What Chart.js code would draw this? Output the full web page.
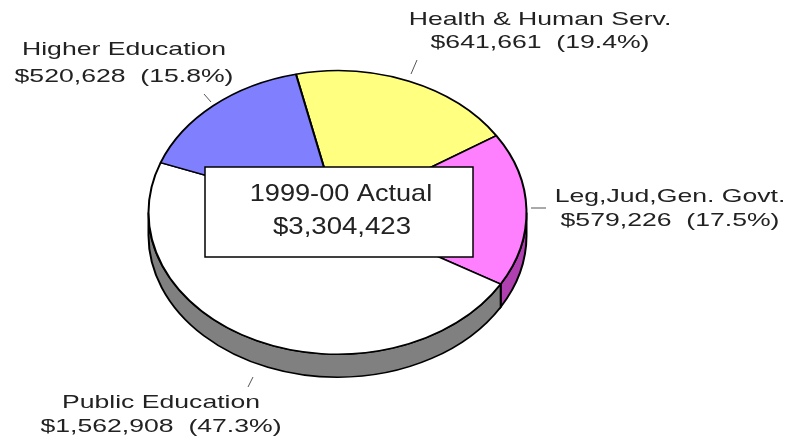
<!DOCTYPE html>
<html>
<head>
<meta charset="utf-8">
<script src="https://cdn.jsdelivr.net/npm/chart.js@4/dist/chart.umd.min.js"></script>
<style>
  html, body { margin: 0; padding: 0; background: #fff; }
  #chart { display: block; }
</style>
</head>
<body>
<canvas id="chart" width="797" height="446"></canvas>
<script>
// data (thousands of dollars)
const categories = ['Health & Human Serv.', 'Leg,Jud,Gen. Govt.', 'Public Education', 'Higher Education'];
const amounts = [641661, 579226, 1562908, 520628];
const centerTitle = '1999-00 Actual';

const topColors = ['#FFFF80', '#FF80FF', '#FFFFFF', '#8080FF'];
const sideColors = ['#B0B040', '#B040B0', '#808080', '#4040B0'];

// layout bits
const TILT = 0.75;      // vertical squash of the pie
const DEPTH = 23;       // thickness of the side wall, px
const CENTER_Y = 212.5; // where the top face is centred
const labelPos = [
    { x: 540, y1: 20, y2: 43, line: [417, 60, 411, 74] },
    { x: 670, y1: 197, y2: 221, line: [531, 208, 546, 208] },
    { x: 161, y1: 403, y2: 427, line: [253, 377, 248, 387] },
    { x: 124, y1: 50, y2: 77, line: [204, 94, 211, 102] }
];

const total = amounts.reduce((a, b) => a + b, 0);

function money(v) {
    return '$' + v.toLocaleString('en-US');
}

function stretchText(ctx, text, x, y, sx) {
    ctx.save();
    ctx.translate(x, y);
    ctx.scale(sx, 1);
    ctx.fillText(text, 0, 0);
    ctx.restore();
}

const tiltPlugin = {
    id: 'tilt',
    beforeDatasetsDraw(chart) {
        const ctx = chart.ctx;
        const arcs = chart.getDatasetMeta(0).data;
        const cx = arcs[0].x, cy = arcs[0].y;
        ctx.save();
        ctx.translate(cx, CENTER_Y);
        ctx.scale(1, TILT);
        ctx.translate(-cx, -cy);

        // side wall, only the front half can be seen
        const d = DEPTH / TILT;
        arcs.forEach((arc, i) => {
            const { startAngle, endAngle, outerRadius } = arc.getProps(['startAngle', 'endAngle', 'outerRadius']);
            [-2 * Math.PI, 0, 2 * Math.PI].forEach(k => {
                const lo = Math.max(startAngle + k, 0);
                const hi = Math.min(endAngle + k, Math.PI);
                if (lo >= hi) return;
                ctx.beginPath();
                ctx.arc(cx, cy, outerRadius, lo, hi);
                ctx.arc(cx, cy + d, outerRadius, hi, lo, true);
                ctx.closePath();
                ctx.fillStyle = sideColors[i];
                ctx.fill();
                ctx.lineWidth = 2;
                ctx.strokeStyle = '#000';
                ctx.stroke();
            });
        });
    },
    afterDatasetsDraw(chart) {
        chart.ctx.restore();
    }
};

const labelPlugin = {
    id: 'labels',
    afterDraw(chart) {
        const ctx = chart.ctx;
        ctx.save();
        ctx.textAlign = 'center';
        ctx.textBaseline = 'middle';
        ctx.fillStyle = '#222';
        ctx.font = '19px "Liberation Sans", Arial, sans-serif';

        categories.forEach((name, i) => {
            const p = labelPos[i];
            const pct = (amounts[i] / total * 100).toFixed(1);
            stretchText(ctx, name, p.x, p.y1, 1.4);
            stretchText(ctx, money(amounts[i]) + '  (' + pct + '%)', p.x, p.y2, 1.4);

            ctx.beginPath();
            ctx.moveTo(p.line[0], p.line[1]);
            ctx.lineTo(p.line[2], p.line[3]);
            ctx.strokeStyle = '#555';
            ctx.lineWidth = 1;
            ctx.stroke();
        });

        // centre box with the total
        ctx.fillStyle = '#fff';
        ctx.fillRect(205, 167, 268, 90);
        ctx.strokeStyle = '#000';
        ctx.lineWidth = 1.5;
        ctx.strokeRect(205, 167, 268, 90);

        ctx.fillStyle = '#222';
        ctx.font = '24px "Liberation Sans", Arial, sans-serif';
        stretchText(ctx, centerTitle, 341, 194, 1.13);
        stretchText(ctx, money(total), 342, 227, 1.15);
        ctx.restore();
    }
};

new Chart(document.getElementById('chart'), {
    type: 'pie',
    data: {
        labels: categories,
        datasets: [{
            data: amounts,
            backgroundColor: topColors,
            borderColor: '#000',
            borderWidth: 2
        }]
    },
    options: {
        responsive: false,
        animation: false,
        rotation: -12.7,
        layout: { padding: { left: 147.5, right: 269.5, top: 33, bottom: 33 } },
        plugins: {
            legend: { display: false },
            tooltip: { enabled: false }
        }
    },
    plugins: [tiltPlugin, labelPlugin]
});
</script>
</body>
</html>
